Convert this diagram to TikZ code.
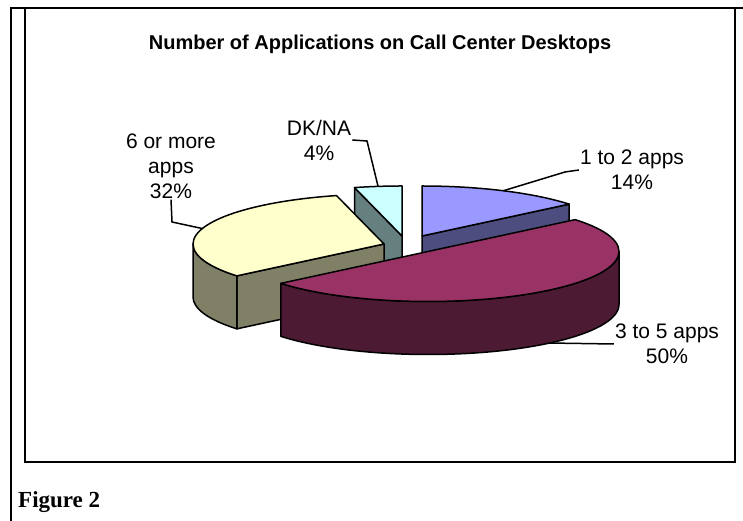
\documentclass[tikz,border=0pt]{standalone}
\usepackage{fontspec}
\setmainfont{Liberation Serif}
\setsansfont{Liberation Sans}
\usetikzlibrary{calc}
\definecolor{bluetop}{HTML}{9999FF}
\definecolor{blueside}{HTML}{4D4D80}
\definecolor{maroontop}{HTML}{993366}
\definecolor{maroonside}{HTML}{4D1A33}
\definecolor{yellowtop}{HTML}{FFFFCC}
\definecolor{yellowside}{HTML}{808066}
\definecolor{cyantop}{HTML}{CCFFFF}
\definecolor{cyanside}{HTML}{668080}
\tikzset{
  slice/.style={draw=black, line width=1.5pt, line join=round},
  frameline/.style={line width=2.5pt},
  leader/.style={line width=1.5pt},
  lbl/.style={font=\sffamily\fontsize{21}{25}\selectfont, align=center, inner sep=1pt}
}
\begin{document}
\begin{tikzpicture}[x=1pt,y=1pt]
  \useasboundingbox (0,0) rectangle (743,521);
  \draw[frameline] (11,0) -- (11,513) -- (743,513);
  \draw[frameline] (25,513) rectangle (735,59);

  \node[font=\sffamily\bfseries\fontsize{20}{24}\selectfont] (ttl) at (380,477) {Number of Applications on Call Center Desktops};
  \node[font=\bfseries\fontsize{23}{27}\selectfont, anchor=base west, inner sep=0pt] (fig) at (18,13) {Figure 2};

  \coordinate (Ab) at (422,285);
  \coordinate (Ad) at (402,285);
  \coordinate (Ay) at (384,277);
  \coordinate (Am) at (428,269.5);

  % 1 to 2 apps
  \draw[slice, fill=blueside] (Ab) -- ($(Ab)+(39.6:191pt and 50pt)$) -- ++(0,-53) -- ($(Ab)+(0,-53)$) -- cycle;
  \draw[slice, fill=bluetop] (Ab) -- ++(0,50) arc[start angle=90, end angle=39.6, x radius=191pt, y radius=50pt] -- cycle;
  % DK/NA
  \draw[slice, fill=cyanside] (Ad) -- ($(Ad)+(104.4:191pt and 50pt)$) -- ++(0,-53) -- ($(Ad)+(0,-53)$) -- cycle;
  \draw[slice, fill=cyantop] (Ad) -- ($(Ad)+(104.4:191pt and 50pt)$) arc[start angle=104.4, end angle=90, x radius=191pt, y radius=50pt] -- cycle;
  % 6 or more apps
  \draw[slice, fill=yellowside] (Ay) -- ($(Ay)+(219.6:191pt and 50pt)$) -- ++(0,-53) -- ($(Ay)+(0,-53)$) -- cycle;
  \draw[slice, fill=yellowside] ($(Ay)+(219.6:191pt and 50pt)$) arc[start angle=219.6, end angle=180, x radius=191pt, y radius=50pt]
    -- ++(0,-53) arc[start angle=180, end angle=219.6, x radius=191pt, y radius=50pt] -- cycle;
  \draw[slice, fill=yellowtop] (Ay) -- ($(Ay)+(219.6:191pt and 50pt)$) arc[start angle=219.6, end angle=104.4, x radius=191pt, y radius=50pt] -- cycle;
  % 3 to 5 apps
  \draw[slice, fill=maroonside] ($(Am)+(191,0)$) arc[start angle=0, end angle=-140.4, x radius=191pt, y radius=50pt]
    -- ++(0,-53) arc[start angle=-140.4, end angle=0, x radius=191pt, y radius=50pt] -- cycle;
  \draw[slice, fill=maroontop] (Am) -- ($(Am)+(39.6:191pt and 50pt)$) arc[start angle=39.6, end angle=-140.4, x radius=191pt, y radius=50pt] -- cycle;

  \node[lbl] (l12) at (632,351) {1 to 2 apps\\14\%};
  \node[lbl] (l35) at (667,177) {3 to 5 apps\\50\%};
  \node[lbl] (ldk) at (319,381) {DK/NA\\4\%};
  \node[lbl] (l6) at (171,355) {6 or more\\apps\\32\%};

  \coordinate (k12) at (565,349);
  \coordinate (e12) at ($(Ab)+(64.8:191pt and 50pt)$);
  \coordinate (e35) at ($(Am)+(-50.4:191pt and 50pt)+(0,-53)$);
  \coordinate (kdk) at (367,380);
  \coordinate (edk) at ($(Ad)+(97.2:191pt and 50pt)$);
  \coordinate (k6) at (172,299);
  \coordinate (e6) at ($(Ay)+(162:191pt and 50pt)$);

  \draw[leader] (l12.west) -- (k12) -- (e12);
  \draw[leader] (l35.west) -- (e35);
  \draw[leader] (ldk.east) -- (kdk) -- (edk);
  \draw[leader] (l6.south) -- (k6) -- (e6);
\end{tikzpicture}
\end{document}
